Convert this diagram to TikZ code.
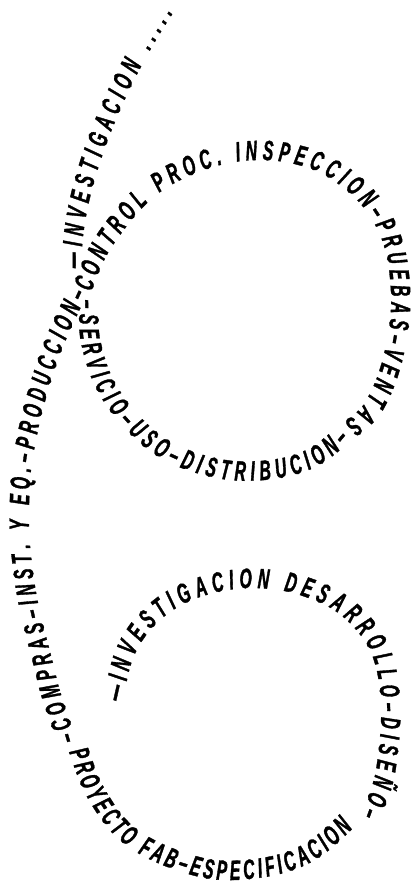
\documentclass[tikz,border=0pt]{standalone}
\usepackage{fontspec}
\newfontfamily\spiralfont{Liberation Sans Bold Italic}[FakeStretch=0.56, FakeBold=1.2]
\usetikzlibrary{decorations.text}
\newcommand\spiralletters{\spiralfont\fontsize{28}{28}\selectfont}
\tikzset{
    spiraltext/.style={decorate, decoration={text along path, text align=fit to path, text={|\spiralletters|#1}}}
}
\begin{document}
\begin{tikzpicture}[x=1pt, y=-1pt]
    \fill[white] (0,0) rectangle (415,894);
    \useasboundingbox (0,0) rectangle (415,894);

    \coordinate (innerstart) at (122,702);
    \coordinate (lowerright) at (361,815);
    \coordinate (lowerleft) at (76,740);
    \coordinate (junction) at (87,294);
    \coordinate (upperend) at (350,439);
    \coordinate (topend) at (173,13);

    % lower loop
    \path[spiraltext={—INVESTIGACION DESARROLLO–DISEÑO–}] (innerstart)
        .. controls +(4,-15) and +(-6,14) .. (134,656)
        .. controls +(6,-14) and +(-11,10) .. (160,620)
        .. controls +(11,-10) and +(-15,5) .. (200,597)
        .. controls +(15,-5) and +(-17,0) .. (250,588)
        .. controls +(17,0) and +(-15,-5) .. (300,595)
        .. controls +(15,5) and +(-12,-10) .. (342,616)
        .. controls +(12,10) and +(-6,-15) .. (372,655)
        .. controls +(6,15) and +(-1,-19) .. (381,705)
        .. controls +(1,19) and +(3,-18) .. (376,770)
        .. controls +(-3,18) and +(5,-15) .. (lowerright);
    \path[spiraltext={PROYECTO FAB–ESPECIFICACION}] (69,752)
        .. controls +(6,16) and +(-11,-18) .. (90,802)
        .. controls +(11,18) and +(-19,-13) .. (130,848)
        .. controls +(19,13) and +(-22,-5) .. (200,877)
        .. controls +(22,5) and +(-20,3) .. (265,877)
        .. controls +(20,-3) and +(-14,9) .. (318,858)
        .. controls +(14,-9) and +(-11,11) .. (353,828);
    \path[spiraltext={–COMPRAS–INST. Y EQ.–PRODUCCION–}] (lowerleft)
        .. controls +(-6,-22) and +(5,22) .. (56,676)
        .. controls +(-5,-22) and +(5,22) .. (40,612)
        .. controls +(-5,-22) and +(2,22) .. (30,546)
        .. controls +(-2,-22) and +(-1,19) .. (30,482)
        .. controls +(1,-19) and +(-4,20) .. (38,430)
        .. controls +(4,-20) and +(-8,23) .. (58,360)
        .. controls +(8,-23) and +(-10,22) .. (junction);

    % upper loop
    \path[spiraltext={CONTROL PROC. INSPECCION–PRUEBAS–VENTAS}] (91,292)
        .. controls +(7,-16) and +(-11,16) .. (113,245)
        .. controls +(11,-16) and +(-16,13) .. (155,196)
        .. controls +(16,-13) and +(-18,6) .. (210,168)
        .. controls +(18,-6) and +(-17,0) .. (262,160)
        .. controls +(17,0) and +(-15,-6) .. (314,170)
        .. controls +(15,6) and +(-11,-11) .. (356,199)
        .. controls +(11,11) and +(-6,-16) .. (382,240)
        .. controls +(6,16) and +(-1,-19) .. (391,292)
        .. controls +(1,19) and +(4,-18) .. (385,350)
        .. controls +(-4,18) and +(8,-14) .. (367,399)
        .. controls +(-8,14) and +(9,-10) .. (344,423);
    \path[spiraltext={–SERVICIO–USO–DISTRIBUCION–}] (79,300)
        .. controls +(1,14) and +(-3,-15) .. (81,342)
        .. controls +(3,15) and +(-8,-15) .. (97,390)
        .. controls +(8,15) and +(-12,-12) .. (128,432)
        .. controls +(12,12) and +(-17,-8) .. (170,463)
        .. controls +(17,8) and +(-20,-2) .. (230,480)
        .. controls +(20,2) and +(-17,4) .. (290,476)
        .. controls +(17,-4) and +(-9,7) .. (330,458)
        .. controls +(9,-7) and +(-6,8) .. (upperend);

    % way out
    \path[spiraltext={—INVESTIGACION .....}] (82,268)
        .. controls (78,200) and (120,92) .. (topend);
\end{tikzpicture}
\end{document}
